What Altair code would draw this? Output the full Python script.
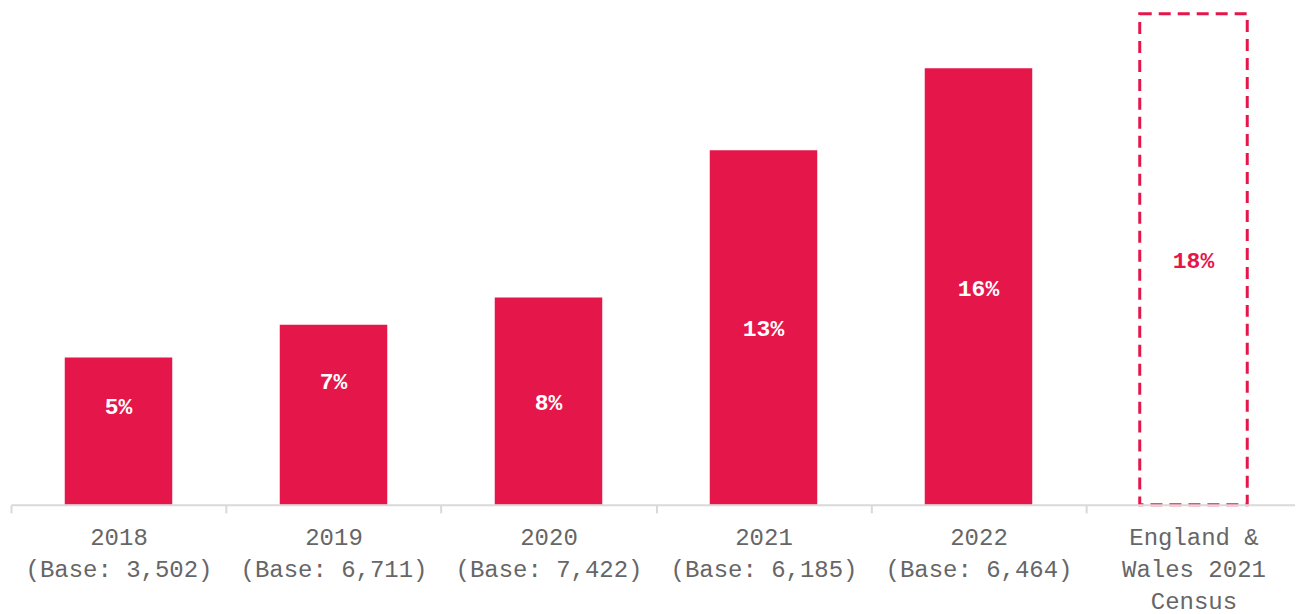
import altair as alt
import pandas as pd

categories = ["2018|(Base: 3,502)", "2019|(Base: 6,711)", "2020|(Base: 7,422)",
              "2021|(Base: 6,185)", "2022|(Base: 6,464)", "England &|Wales 2021|Census"]
values = [5.4, 6.6, 7.6, 13.0, 16.0, 18.0]
labels = ["5%", "7%", "8%", "13%", "16%", "18%"]
label_pos = [3.66, 4.58, 3.8, 6.5, 8.0, 9.0]
kinds = ["survey", "survey", "survey", "survey", "survey", "census"]

RED = "#E5164A"

df = pd.DataFrame({"cat": categories, "value": values, "label": labels,
                   "pos": label_pos, "kind": kinds})

x = alt.X("cat:N", sort=categories, title=None,
          scale=alt.Scale(paddingInner=0, paddingOuter=0),
          axis=alt.Axis(labelExpr="split(datum.label, '|')", labelAngle=0,
                        labelFont="Liberation Mono", labelFontSize=24,
                        labelColor="#666666", labelLineHeight=32, labelPadding=13,
                        domainColor="#d9d9d9", domainWidth=2, tickColor="#d9d9d9",
                        tickWidth=2, tickSize=8, tickBand="extent", zindex=1,
                        labelLimit=400))
y = alt.Y("value:Q", title=None, axis=None,
          scale=alt.Scale(domain=[0, 18.2], nice=False))

base = alt.Chart(df)
bw = alt.RelativeBandSize(0.5)

bars = base.transform_filter("datum.kind == 'survey'").mark_bar(
    color=RED, width=bw).encode(x=x, y=y)
census = base.transform_filter("datum.kind == 'census'").mark_bar(
    fill="transparent", stroke=RED, strokeWidth=3, strokeDash=[12, 7],
    width=bw).encode(x=x, y=y)
txt = base.transform_filter("datum.kind == 'survey'").mark_text(
    color="white", font="Liberation Mono", fontSize=23, fontWeight="bold",
    baseline="middle", dy=2).encode(x=x, y=alt.Y("pos:Q"), text="label:N")
txt2 = base.transform_filter("datum.kind == 'census'").mark_text(
    color=RED, font="Liberation Mono", fontSize=23, fontWeight="bold",
    baseline="middle", dy=2).encode(x=x, y=alt.Y("pos:Q"), text="label:N")

chart = alt.layer(bars, census, txt, txt2).properties(
    width=1291, height=497,
    padding={"left": 2, "right": -7, "top": 0, "bottom": 0}
).configure_view(stroke=None)

chart.save("out.html", embed_options={"renderer": "svg", "actions": False})
